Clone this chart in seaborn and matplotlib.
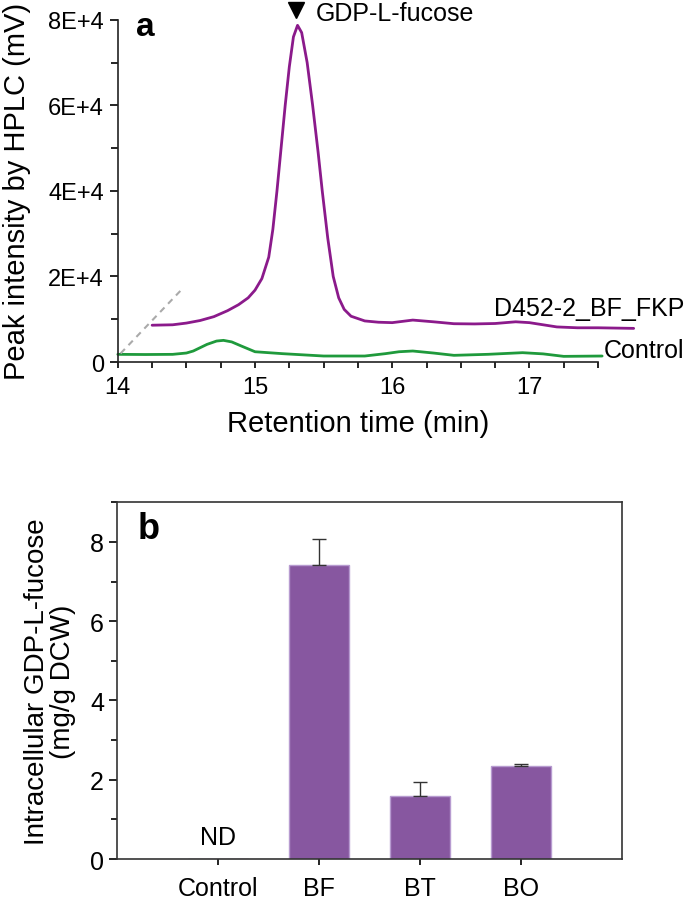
import numpy as np
import pandas as pd
import matplotlib
matplotlib.use('Agg')
import matplotlib.pyplot as plt
import seaborn as sns
from matplotlib.ticker import MultipleLocator, FuncFormatter

# panel a: chromatogram points
fkp_time = [14.25, 14.4, 14.5, 14.6, 14.7, 14.8, 14.88, 14.95, 15.0, 15.05, 15.1,
            15.13, 15.16, 15.19, 15.22, 15.25, 15.28, 15.31, 15.34, 15.38, 15.42,
            15.46, 15.49, 15.53, 15.57, 15.61, 15.65, 15.7, 15.8, 15.9, 16.0, 16.15,
            16.3, 16.45, 16.6, 16.75, 16.9, 17.0, 17.1, 17.2, 17.35, 17.5, 17.76]
fkp_int = [8600, 8700, 9100, 9700, 10600, 12000, 13400, 15000, 16800, 19500, 24500,
           31000, 40000, 50000, 60000, 69000, 76000, 78700, 77000, 70000, 60000,
           49000, 40000, 29000, 20000, 15000, 12300, 10700, 9600, 9300, 9200, 9800,
           9400, 8950, 8900, 9000, 9400, 9200, 8700, 8200, 8000, 8000, 7860]
ctrl_time = [14.0, 14.2, 14.4, 14.5, 14.55, 14.65, 14.72, 14.77, 14.83, 14.9, 15.0,
             15.2, 15.5, 15.8, 15.95, 16.05, 16.15, 16.3, 16.45, 16.7, 16.95, 17.1,
             17.25, 17.53]
ctrl_int = [1790, 1750, 1790, 2100, 2570, 4120, 4900, 5060, 4700, 3740, 2400,
            1950, 1400, 1400, 1950, 2400, 2570, 2100, 1560, 1800, 2180, 1900,
            1320, 1400]

# panel b: bars
strains = ['Control', 'BF', 'BT', 'BO']
fucose = [0.0, 7.42, 1.6, 2.34]
fucose_err = [0.0, 0.65, 0.35, 0.07]

purple = '#8b1a8b'
green = '#1f9a3c'
bar_col = '#8757a0'

sns.set_style('ticks')
plt.rcParams['font.family'] = ['Liberation Sans', 'DejaVu Sans']
plt.rcParams['text.color'] = 'black'
plt.rcParams['axes.labelcolor'] = 'black'
plt.rcParams['xtick.color'] = 'black'
plt.rcParams['ytick.color'] = 'black'

fig = plt.figure(figsize=(6.85, 9.03), dpi=100)
ax1 = fig.add_axes([0.172, 0.598, 0.701, 0.379])
ax2 = fig.add_axes([0.171, 0.0476, 0.737, 0.395])

chrom = pd.concat([
    pd.DataFrame({'time': fkp_time, 'intensity': fkp_int, 'sample': 'D452-2_BF_FKP'}),
    pd.DataFrame({'time': ctrl_time, 'intensity': ctrl_int, 'sample': 'Control'}),
])
sns.lineplot(data=chrom, x='time', y='intensity', hue='sample',
             palette={'D452-2_BF_FKP': purple, 'Control': green},
             linewidth=2.0, legend=False, ax=ax1, sort=True)
for ln in ax1.lines:
    ln.set_clip_on(False)
    ln.set_solid_joinstyle('round')

ax1.plot([14.02, 14.47], [2000, 17100], ls=(0, (3, 2.5)), color='#aaaaaa', lw=1.5)

ax1.set_xlim(14, 17.5)
ax1.set_ylim(0, 80000)
ax1.xaxis.set_major_locator(MultipleLocator(1))
ax1.xaxis.set_minor_locator(MultipleLocator(0.25))
ax1.yaxis.set_major_locator(MultipleLocator(20000))
ax1.yaxis.set_minor_locator(MultipleLocator(10000))
ax1.yaxis.set_major_formatter(FuncFormatter(
    lambda v, p: '0' if v == 0 else '%dE+4' % round(v / 10000)))
ax1.tick_params(axis='both', which='major', length=6, width=1.2, labelsize=17)
ax1.tick_params(axis='both', which='minor', length=5, width=1.2)
ax1.tick_params(axis='x', which='both', length=4, pad=6)
ax1.tick_params(axis='y', pad=4)
sns.despine(ax=ax1)
for s in ax1.spines.values():
    s.set_linewidth(1.2)
    s.set_color('#222222')
ax1.set_xlabel('Retention time (min)', fontsize=21, labelpad=8)
ax1.set_ylabel('Peak intensity by HPLC (mV)', fontsize=21, labelpad=12)

ax1.text(14.13, 78500, 'a', fontsize=24, fontweight='bold', ha='left', va='center')
ax1.plot([15.3], [82200], marker='v', color='black', markersize=12, clip_on=False)
ax1.text(15.44, 81600, 'GDP-L-fucose', fontsize=18, ha='left', va='center')
ax1.text(18.13, 12600, 'D452-2_BF_FKP', fontsize=18, ha='right', va='center')
ax1.text(18.13, 2800, 'Control', fontsize=18, ha='right', va='center')

bars = pd.DataFrame({'strain': strains, 'value': fucose, 'err': fucose_err})
sns.barplot(data=bars, x='strain', y='value', order=strains, color=bar_col,
            saturation=1, width=0.6, edgecolor='#b79bd0', linewidth=1, ax=ax2)
ax2.errorbar(x=np.arange(len(strains))[1:], y=fucose[1:],
             yerr=[np.zeros(3), fucose_err[1:]], fmt='none', ecolor='#333333',
             elinewidth=1, capsize=5, capthick=1)
ax2.set_xlim(-1, 4)
ax2.set_ylim(0, 9)
ax2.yaxis.set_major_locator(MultipleLocator(2))
ax2.yaxis.set_minor_locator(MultipleLocator(1))
ax2.tick_params(axis='both', which='major', length=6, width=1.2, labelsize=18)
ax2.tick_params(axis='y', which='minor', length=4, width=1.2)
ax2.tick_params(axis='x', length=4, pad=8)
for s in ax2.spines.values():
    s.set_linewidth(1.2)
    s.set_color('#333333')
ax2.set_xlabel('')
ax2.set_ylabel('Intracellular GDP-L-fucose\n(mg/g DCW)', fontsize=20, labelpad=10,
               linespacing=1.0)
ax2.text(-0.8, 8.33, 'b', fontsize=26, fontweight='bold', ha='left', va='center')
ax2.text(0, 0.55, 'ND', fontsize=18, ha='center', va='center')

fig.savefig('out.png', dpi=100)
